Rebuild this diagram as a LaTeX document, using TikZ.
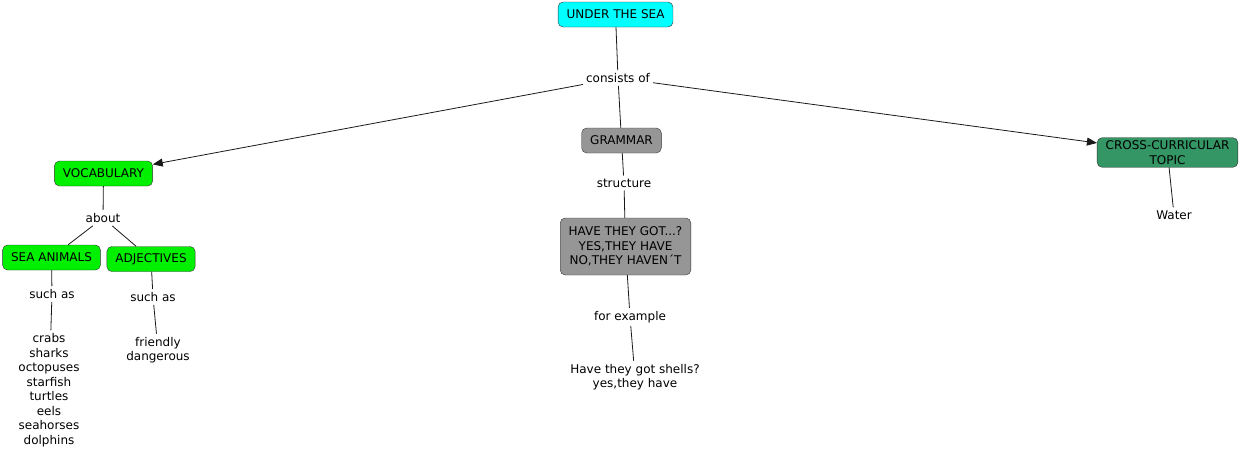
\documentclass[tikz,border=0pt]{standalone}
\usepackage{fontspec}
\setmainfont{DejaVu Sans}
\usepackage{tikz}
\usetikzlibrary{arrows.meta}

\definecolor{seacyan}{RGB}{0,255,255}
\definecolor{vocabgreen}{RGB}{0,240,0}
\definecolor{grammargray}{RGB}{150,150,150}
\definecolor{topicgreen}{RGB}{51,150,100}

\begin{document}
\begin{tikzpicture}[x=1pt, y=-1pt,
  conceptbox/.style={draw=black!80, rounded corners=5pt, minimum height=25pt,
    inner xsep=8.5pt, inner ysep=3pt, align=center,
    font=\fontsize{12}{14.5}\selectfont},
  linkword/.style={inner sep=3pt, align=center, font=\fontsize{12}{14.5}\selectfont},
  linkline/.style={line width=0.8pt, black!90},
  linkarrow/.style={linkline, -{Triangle[length=10pt,width=8pt]}}
]
\useasboundingbox (0,0) rectangle (1241,458);
% concepts
\node[conceptbox, fill=seacyan] (sea) at (615.5,14.5) {UNDER THE SEA};
\node[conceptbox, fill=vocabgreen] (vocabulary) at (103.5,173.5) {VOCABULARY};
\node[conceptbox, fill=grammargray] (grammar) at (621.5,140.5) {GRAMMAR};
\node[conceptbox, fill=topicgreen] (topic) at (1167.5,152.5) {CROSS-CURRICULAR\\TOPIC};
\node[conceptbox, fill=vocabgreen] (animals) at (51.5,257.5) {SEA ANIMALS};
\node[conceptbox, fill=vocabgreen] (adjectives) at (151,259) {ADJECTIVES};
\node[conceptbox, fill=grammargray, minimum height=57pt] (question) at (625.5,246.5) {HAVE THEY GOT...?\\YES,THEY HAVE\\NO,THEY HAVEN\textasciiacute T};
% linking words
\node[linkword] (consists) at (618,78) {consists of};
\node[linkword] (about) at (103,218) {about};
\node[linkword] (structure) at (624,183) {structure};
\node[linkword] (forexample) at (630,317) {for example};
\node[linkword] (suchas-a) at (52,294) {such as};
\node[linkword] (suchas-b) at (153,297) {such as};
% leaves
\node[linkword] (water) at (1174,215) {Water};
\node[linkword] (creatures) at (49,390) {crabs\\sharks\\octopuses\\starfish\\turtles\\eels\\seahorses\\dolphins};
\node[linkword] (describing) at (158,350) {friendly\\dangerous};
\node[linkword] (shells) at (635,377) {Have they got shells?\\yes,they have};
\foreach \a/\b in {sea/consists,consists/grammar,vocabulary/about,about/animals,about/adjectives,animals/suchas-a,suchas-a/creatures,adjectives/suchas-b,suchas-b/describing,grammar/structure,structure/question,question/forexample,forexample/shells,topic/water}
  \draw[linkline] (\a) -- (\b);
\draw[linkarrow] (consists) -- (vocabulary);
\draw[linkarrow] (consists) -- (topic);
\end{tikzpicture}
\end{document}
